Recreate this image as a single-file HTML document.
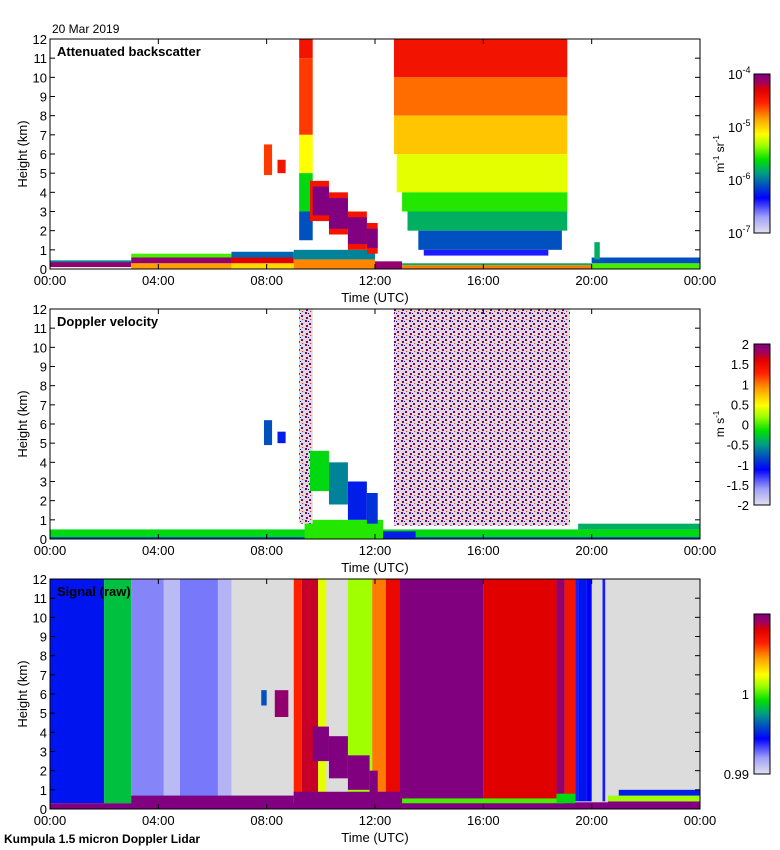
<!DOCTYPE html>
<html><head><meta charset="utf-8">
<style>
body{margin:0;background:#fff;}
svg{display:block;font-family:"Liberation Sans",sans-serif;}
text{fill:#000;}
</style></head>
<body>
<svg id="fig" width="780" height="850" viewBox="0 0 780 850" xmlns="http://www.w3.org/2000/svg">
<defs>
<pattern id="speck" width="8" height="8" patternUnits="userSpaceOnUse">
<rect width="8" height="8" fill="#dcdcdc"/>
<rect x="1" y="0" width="2" height="2" fill="#800080"/>
<rect x="5" y="3" width="2" height="2" fill="#800080"/>
<rect x="2" y="5" width="2" height="2" fill="#800080"/>
<rect x="6" y="7" width="1" height="1" fill="#ff2000"/>
<rect x="4" y="1" width="1" height="1" fill="#0000ff"/>
</pattern>
<linearGradient id="cbar" x1="0" y1="1" x2="0" y2="0"></linearGradient>
</defs>
<text x="52" y="33" font-size="12">20 Mar 2019</text>
<text x="4" y="843" font-size="12" font-weight="bold">Kumpula 1.5 micron Doppler Lidar</text>
<g id="panels"></g>
</svg>
<script>
// ---- colour map stops (position, colour) ----
const cmapPos = [0,0.1,0.22,0.3,0.38,0.46,0.55,0.62,0.72,0.82,0.9,0.95,1];
const cmapCol = ['#e0e0f0','#a0a0f8','#0000ff','#0050c0','#00a080','#00e000','#a0ff00','#ffff00','#ffa000','#ff2000','#e00000','#a00060','#800080'];

// ---- x-axis ticks ----
const xTickHours = [0,4,8,12,16,20,24];
const xTickLabels = ['00:00','04:00','08:00','12:00','16:00','20:00','00:00'];
const yTicks = [0,1,2,3,4,5,6,7,8,9,10,11,12];

// ---- Panel 1: attenuated backscatter (normalized log10, 0=1e-7 .. 1=1e-4) ----
const p1T0=[0,0,3,3,3,6.7,6.7,6.7,9,9,12,13,13,20,20, 7.9,8.4, 9.2,9.2,9.2,9.2,9.2, 9.6,10.3,11,11.7, 9.7,10.3,11,11.7, 12.7,12.7,12.7,12.8,13,13.2,13.6,13.8, 20.1];
const p1T1=[3,3,6.7,6.7,6.7,9,9,9,12,12,13,20,20,24,24, 8.2,8.7, 9.7,9.7,9.7,9.7,9.7, 10.3,11,11.7,12.1, 10.3,11,11.7,12.1, 19.1,19.1,19.1,19.1,19.1,19.1,18.9,18.4, 20.3];
const p1H0=[0.1,0.35,0,0.3,0.6,0,0.3,0.6,0,0.5,0,0,0.2,0,0.3, 4.9,5,11,7,5,3,1.5, 2.5,1.8,1,0.8, 2.8,2.1,1.3,1.1, 10,8,6,4,3,2,1,0.7, 0.5];
const p1H1=[0.4,0.45,0.3,0.6,0.8,0.3,0.6,0.9,0.5,1,0.4,0.2,0.3,0.3,0.6, 6.5,5.7,12,11,7,5,3, 4.6,4,3,2.4, 4.3,3.7,2.7,2.1, 12,10,8,6,4,3,2,1, 1.4];
const p1V=[0.97,0.35,0.72,0.97,0.5,0.66,0.9,0.32,0.74,0.35,0.97,0.75,0.4,0.5,0.3, 0.8,0.85,0.85,0.8,0.62,0.45,0.3, 0.85,0.85,0.85,0.85, 1,1,1,1, 0.85,0.76,0.68,0.6,0.48,0.4,0.3,0.2, 0.4];

// ---- Panel 2: Doppler velocity (normalized (v+2)/4); -1 = noise ----
const p2T0=[0,0,9.4,7.9,8.4, 9.2,12.7, 9.6,10.3,11,11.7, 12.3,19.5];
const p2T1=[24,24,12.3,8.2,8.7, 9.7,19.2, 10.3,11,11.7,12.1, 13.5,24];
const p2H0=[0,0,0,4.9,5, 0.8,0.7, 2.5,1.8,1,0.8, 0,0.5];
const p2H1=[0.5,0.1,1,6.2,5.6, 12,12, 4.6,4,3,2.4, 0.4,0.8];
const p2V=[0.45,0.3,0.48,0.3,0.25, -1,-1, 0.45,0.35,0.25,0.27, 0.25,0.4];

// ---- Panel 3: raw signal (normalized, 0=0.99 .. 1=max); -2 = gray ----
const p3T0=[0,0,2,3,4.2,4.8,6.2, 7.8,8.3, 9.0,9.3,9.9,11.0,11.9,12.4,12.9,16,18.7,19.0,19.4,19.5,19.8,20.4, 9.7,10.3,11,11.8, 0,3,9,13,13,18.7,20.6,20.6,21];
const p3T1=[24,2,3,4.2,4.8,6.2,6.7, 8.0,8.8, 9.3,9.9,10.2,11.9,12.4,12.9,16,18.7,19.0,19.4,19.5,19.8,20.0,20.5, 10.3,11,11.8,12.1, 24,9,13,20.6,19,19.4,24,24,24];
const p3H0=[0,0.3,0.3,0.3,0.3,0.3,0.3, 5.4,4.8, 0.6,0.6,0.6,0.6,0.6,0.6,0.4,0.4,0.4,0.4,0.4,0.4,0.4,0.4, 2.5,1.6,1,0.3, 0,0,0,0,0.3,0.3,0,0.4,0.7];
const p3H1=[12,12,12,12,12,12,12, 6.2,6.2, 12,12,12,12,12,12,12,12,12,12,12,12,12,12, 4.3,3.8,2.8,2, 0.3,0.7,0.9,0.35,0.55,0.8,0.4,0.7,1.0];
const p3V=[-2,0.24,0.42,0.12,0.06,0.13,0.07, 0.3,0.97, 0.82,0.92,0.6,0.55,0.75,0.88,1,0.9,0.97,0.85,0.2,0.24,0.22,0.2, 1,1,1,1, 1,1,1,1,0.5,0.45,1,0.55,0.25];

// ---- colour bar ticks ----
const cb1Labels=[['10','-4'],['10','-5'],['10','-6'],['10','-7']];
const cb1Frac=[1,2/3,1/3,0];
const cb2Labels=['2','1.5','1','0.5','0','-0.5','-1','-1.5','-2'];
const cb3Labels=['1','0.99'];
const cb3Frac=[0.5,0];

const NS='http://www.w3.org/2000/svg';
function hex(c){return [parseInt(c.slice(1,3),16),parseInt(c.slice(3,5),16),parseInt(c.slice(5,7),16)];}
function cmap(v){
  v=Math.max(0,Math.min(1,v));
  for(let i=1;i<cmapPos.length;i++){
    if(v<=cmapPos[i]){
      const f=(v-cmapPos[i-1])/(cmapPos[i]-cmapPos[i-1]);
      const a=hex(cmapCol[i-1]),b=hex(cmapCol[i]);
      return 'rgb('+a.map((x,k)=>Math.round(x+(b[k]-x)*f)).join(',')+')';
    }
  }
  return cmapCol[cmapCol.length-1];
}
function el(tag,attrs,parent){const e=document.createElementNS(NS,tag);for(const k in attrs)e.setAttribute(k,attrs[k]);parent.appendChild(e);return e;}
const X0=50,X1=700;
function xs(t){return X0+t*(X1-X0)/24;}
const root=document.getElementById('panels');

// gradient for colour bars
const grad=document.getElementById('cbar');
for(let i=0;i<cmapPos.length;i++){el('stop',{offset:cmapPos[i],'stop-color':cmapCol[i]},grad);}

function panel(idx,top,title,T0,T1,H0,H1,V,bg){
  const bot=top+230;
  const ys=h=>bot-h*230/12;
  const g=el('g',{},root);
  
  
  const plot=el('rect',{x:X0,y:top,width:X1-X0,height:230,fill:bg},g);
  
  
  for(let i=0;i<V.length;i++){
    let fill;
    if(V[i]===-1) fill='url(#speck)';
    else if(V[i]===-2) fill='#dcdcdc';
    else fill=cmap(V[i]);
    const r=el('rect',{x:xs(T0[i]),y:ys(H1[i]),width:xs(T1[i])-xs(T0[i]),height:ys(H0[i])-ys(H1[i]),fill:fill},g);
    
    
  }
  const fr=el('rect',{x:X0,y:top,width:X1-X0,height:230,fill:'none',stroke:'#000','stroke-width':1},g);
  
  
  yTicks.forEach(h=>{
    el('line',{x1:X0,x2:X0+5,y1:ys(h),y2:ys(h),stroke:'#000'},g);
    el('line',{x1:X1-5,x2:X1,y1:ys(h),y2:ys(h),stroke:'#000'},g);
    const t=el('text',{x:X0-3,y:ys(h)+5,'font-size':13,'text-anchor':'end'},g);
    t.textContent=String(h);
    
    
  });
  xTickHours.forEach((hr,i)=>{
    el('line',{x1:xs(hr),x2:xs(hr),y1:bot,y2:bot-5,stroke:'#000'},g);
    el('line',{x1:xs(hr),x2:xs(hr),y1:top,y2:top+5,stroke:'#000'},g);
    const t=el('text',{x:xs(hr),y:bot+16,'font-size':13,'text-anchor':'middle'},g);
    t.textContent=xTickLabels[i];
    
    
  });
  const xt=el('text',{x:375,y:bot+33,'font-size':13,'text-anchor':'middle'},g);
  xt.textContent='Time (UTC)';
  
  
  const yt=el('text',{x:0,y:0,'font-size':13,'text-anchor':'middle',transform:'translate(27,'+(top+115)+') rotate(-90)'},g);
  yt.textContent='Height (km)';
  
  
  const tt=el('text',{x:57,y:top+17,'font-size':13,'font-weight':'bold'},g);
  tt.textContent=title;
  
  
  return g;
}
function colorbar(g,top,bot){
  const cb=el('rect',{x:754,y:top,width:16,height:bot-top,fill:'url(#cbar)',stroke:'#000','stroke-width':1},g);
  
  
}
const g1=panel(1,39,'Attenuated backscatter',p1T0,p1T1,p1H0,p1H1,p1V,'#fff');
colorbar(g1,74,233);
cb1Labels.forEach((l,i)=>{
  const y=233-cb1Frac[i]*159;
  const t=el('text',{x:728,y:y+5,'font-size':13},g1);
  
  
  t.textContent=l[0];
  const s=el('tspan',{'font-size':9,dy:-6},t);s.textContent=l[1];
});
const u1=el('text',{x:0,y:0,'font-size':12,'text-anchor':'middle',transform:'translate(724,154) rotate(-90)'},g1);


u1.innerHTML='m<tspan font-size="8" dy="-5">-1</tspan><tspan dy="5"> sr</tspan><tspan font-size="8" dy="-5">-1</tspan>';

const g2=panel(2,309,'Doppler velocity',p2T0,p2T1,p2H0,p2H1,p2V,'#fff');
colorbar(g2,344,505);
cb2Labels.forEach((l,i)=>{
  const y=344+i*(505-344)/(cb2Labels.length-1);
  const t=el('text',{x:749,y:y+5,'font-size':13,'text-anchor':'end'},g2);
  t.textContent=l;
  
  
});
const u2=el('text',{x:0,y:0,'font-size':12,'text-anchor':'middle',transform:'translate(724,424) rotate(-90)'},g2);


u2.innerHTML='m s<tspan font-size="8" dy="-5">-1</tspan>';

const g3=panel(3,579,'Signal (raw)',p3T0,p3T1,p3H0,p3H1,p3V,'#dcdcdc');
colorbar(g3,614,774);
cb3Labels.forEach((l,i)=>{
  const y=774-cb3Frac[i]*160;
  const t=el('text',{x:749,y:y+5,'font-size':13,'text-anchor':'end'},g3);
  t.textContent=l;
  
  
});
</script>
</body></html>
